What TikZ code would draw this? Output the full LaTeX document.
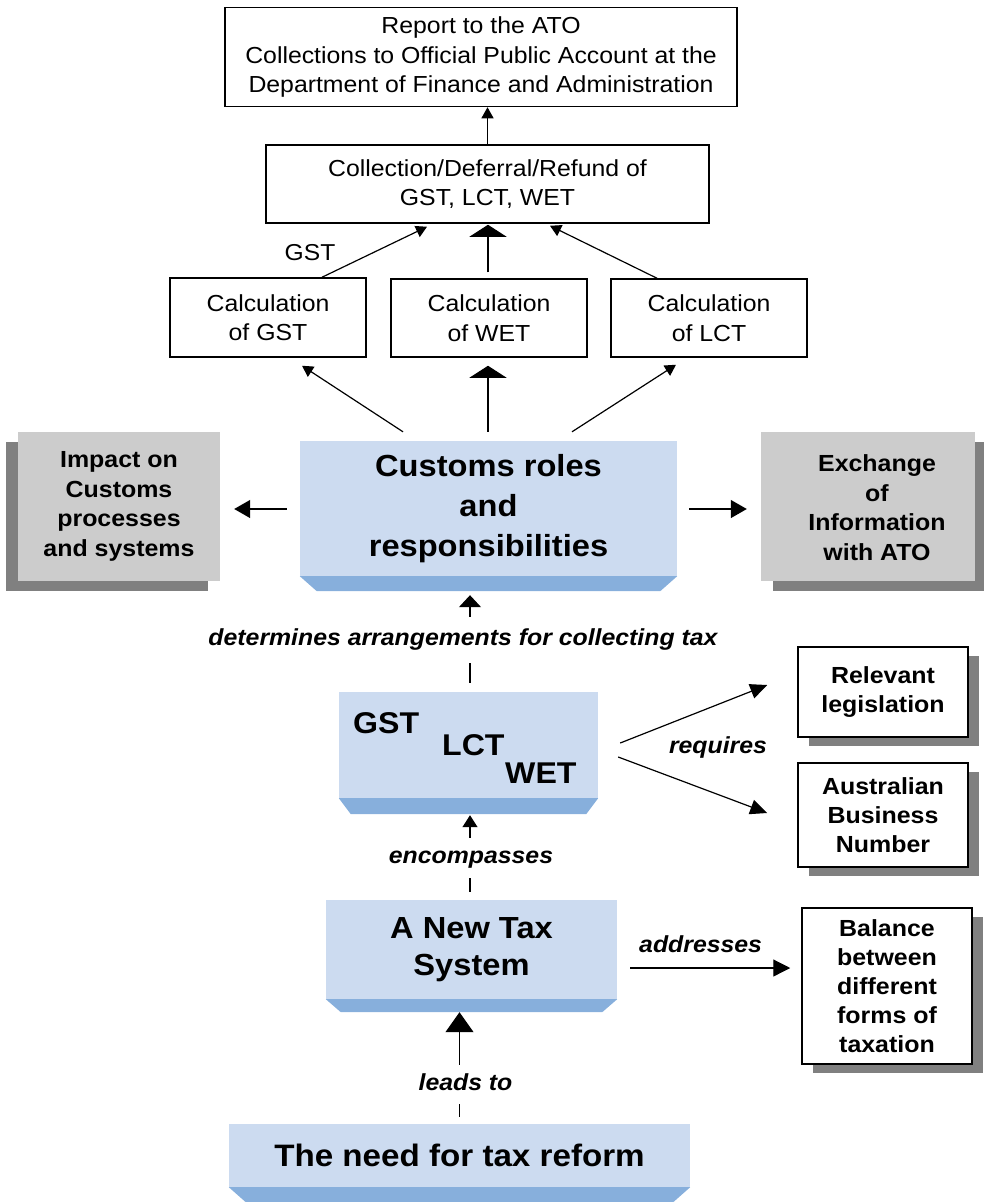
\documentclass[tikz,border=0pt]{standalone}
\usepackage{fontspec}
\setmainfont{Liberation Sans}[FakeStretch=1.07]
\usetikzlibrary{arrows.meta,calc,shadows}
\definecolor{paleblue}{RGB}{204,219,240}
\definecolor{bevelblue}{RGB}{135,175,220}
\definecolor{panelgrey}{RGB}{204,204,204}
\definecolor{shadegrey}{RGB}{128,128,128}

% darker sloped strip under a blue box: node name, inset, height (pt)
\newcommand\bevelunder[3]{%
  \fill[bevelblue] (#1.south west) -- (#1.south east)
    -- ($(#1.south east)+(-#2pt,-#3pt)$) -- ($(#1.south west)+(#2pt,-#3pt)$) -- cycle;}

\tikzset{
  plainbox/.style={draw, line width=1.5pt, fill=white, align=center, inner sep=0pt,
    font=\fontsize{23.2}{29.5}\selectfont},
  wbox/.style={draw, line width=1.5pt, fill=white, align=center, inner sep=0pt,
    font=\bfseries\fontsize{23.3}{29}\selectfont,
    drop shadow={shadow xshift=11pt, shadow yshift=-9pt, fill=shadegrey, opacity=1}},
  bluebox/.style={fill=paleblue, align=center, inner sep=0pt},
  panel/.style={fill=panelgrey, align=center, inner sep=0pt,
    font=\bfseries\fontsize{23.3}{29.6}\selectfont},
  paneltext/.style={align=center, inner sep=0pt, font=\bfseries\fontsize{23.3}{29.6}\selectfont},
  taxword/.style={inner sep=0pt, font=\bfseries\fontsize{30}{36}\selectfont},
  conn/.style={line width=1.2pt, draw=black},
  tipsmall/.style={-{Triangle[length=11pt,width=12pt]}},
  tipwide/.style={-{Triangle[length=12pt,width=37pt]}},
  tipside/.style={-{Triangle[length=16pt,width=18pt]}},
  tipreq/.style={-{Triangle[length=17pt,width=15pt]}},
  lbl/.style={font=\bfseries\itshape\fontsize{23.2}{28}\selectfont, fill=white,
    text height=16.5pt, text depth=5pt, inner xsep=2pt},
  lblplain/.style={font=\bfseries\itshape\fontsize{23.2}{28}\selectfont, inner sep=0pt},
}

\begin{document}
\begin{tikzpicture}[x=1pt,y=-1pt]
\useasboundingbox (0,0) rectangle (984,1202);

% ---- reporting and collection
\node[plainbox, minimum width=512pt, minimum height=99pt] (ato) at (481,57)
  {Report to the ATO\\Collections to Official Public Account at the\\Department of Finance and Administration};
\node[plainbox, minimum width=443pt, minimum height=78pt] (coll) at (487.5,184)
  {Collection/Deferral/Refund of\\GST, LCT, WET};
\draw[conn, tipsmall] (coll.north) -- (coll.north |- ato.south);

% ---- calculations
\node[plainbox, minimum width=196pt, minimum height=79pt] (cgst) at (268,317.5) {Calculation\\of GST};
\node[plainbox, minimum width=196pt, minimum height=78pt] (cwet) at (489,318) {Calculation\\of WET};
\node[plainbox, minimum width=196pt, minimum height=78pt] (clct) at (709,318) {Calculation\\of LCT};

\draw[conn, tipsmall] ($(cgst.north)+(54pt,0)$) -- ($(coll.south)+(-60.5pt,-3pt)$);
\draw[conn, tipwide] ($(cwet.north)+(-1pt,6pt)$) -- ($(cwet.north |- coll.south)+(-1pt,-1pt)$);
\draw[conn, tipsmall] ($(clct.north)+(-52pt,0)$) -- ($(coll.south)+(62.5pt,-2pt)$);
\node[inner sep=0pt, anchor=base, font=\fontsize{23}{28}\selectfont] (gstlbl) at (310,260) {GST};

% ---- customs roles
\node[bluebox, minimum width=377pt, minimum height=135pt,
  font=\bfseries\fontsize{30.5}{40}\selectfont] (cust) at (488.5,508.5)
  {Customs roles\\and\\responsibilities};
\bevelunder{cust}{17}{15}

\draw[conn, tipsmall] ($(cust.north)+(-85.5pt,9pt)$) -- ($(cgst.south)+(34pt,-8pt)$);
\draw[conn, tipwide] ($(cust.north)+(-0.5pt,9pt)$) -- ($(cwet.south)+(-1pt,-8pt)$);
\draw[conn, tipsmall] ($(cust.north)+(83.5pt,9pt)$) -- ($(clct.south)+(-33pt,-7pt)$);

\node[panel, minimum width=202pt, minimum height=149pt,
  drop shadow={shadow xshift=-12pt, shadow yshift=-10pt, fill=shadegrey, opacity=1}]
  (impact) at (119,506.5) {Impact on\\Customs\\processes\\and systems};
\node[panel, minimum width=214pt, minimum height=149pt,
  drop shadow={shadow xshift=12pt, shadow yshift=-10pt, fill=shadegrey, opacity=1}]
  (exch) at (868,506.5) {};
\node[paneltext] (exchtext) at (877,507.5) {Exchange\\of\\Information\\with ATO};

\draw[conn, tipside] ($(cust.west)+(-13pt,-0.5pt)$) -- ($(cust.west -| impact.east)+(14pt,-0.5pt)$);
\draw[conn, tipside] ($(cust.east)+(12pt,-0.5pt)$) -- ($(cust.east -| exch.west)+(-14pt,-0.5pt)$);

% ---- the three taxes
\node[bluebox, minimum width=259pt, minimum height=106pt] (taxes) at (468.5,745) {};
\bevelunder{taxes}{12}{16}
\node[taxword, anchor=base west] (wgst) at (353,733) {GST};
\node[taxword, anchor=base west] (wlct) at (442,755) {LCT};
\node[taxword, anchor=base west] (wwet) at (505,783) {WET};

\draw[conn, -{Triangle[length=12pt,width=22pt]}]
  ($(taxes.north)+(1.5pt,9pt)$) -- ($(taxes.north |- cust.south)+(1.5pt,-19pt)$)
  node[lbl, pos=0.489, xshift=-7pt, inner ysep=12.5pt] (detlbl) {determines arrangements for collecting tax};

\node[wbox, minimum width=170pt, minimum height=90pt] (legis) at (883,692) {Relevant\\legislation};
\node[wbox, minimum width=170pt, minimum height=104pt] (abn) at (883,815) {Australian\\Business\\Number};
\draw[conn, tipreq] ($(taxes.east)+(22pt,2pt)$) -- ($(legis.west)+(-30pt,7pt)$);
\draw[conn, tipreq] ($(taxes.east)+(20pt,-12pt)$) -- ($(abn.west)+(-30pt,2pt)$);
\node[lblplain, anchor=base] (req) at (718,753) {requires};

% ---- a new tax system
\node[bluebox, minimum width=291pt, minimum height=99pt,
  font=\bfseries\fontsize{30.5}{37}\selectfont] (ats) at (471.5,949.5) {A New Tax\\System};
\bevelunder{ats}{15}{13}

\draw[conn, -{Triangle[length=12pt,width=15pt]}]
  ($(ats.north)+(-1.5pt,8pt)$) -- ($(ats.north |- taxes.south)+(-1.5pt,-17pt)$)
  node[lbl, pos=0.442, xshift=1pt, inner ysep=9.5pt] (enclbl) {encompasses};

\node[wbox, minimum width=170pt, minimum height=156pt] (bal) at (887,986)
  {Balance\\between\\different\\forms of\\taxation};
\draw[conn, -{Triangle[length=17pt,width=17pt]}]
  ($(ats.east)+(13pt,-18.5pt)$) -- ($(ats.east -| bal.west)+(-11pt,-18.5pt)$)
  node[lblplain, pos=0.44, anchor=base, yshift=16pt] (addlbl) {addresses};

% ---- the need for reform
\node[bluebox, minimum width=461pt, minimum height=63pt,
  font=\bfseries\fontsize{31}{37}\selectfont] (need) at (459.5,1155.5) {The need for tax reform};
\bevelunder{need}{17}{15}

\draw[conn, -{Triangle[length=20pt,width=28pt]}]
  ($(need.north)+(0,7pt)$) -- ($(need.north |- ats.south)+(0,-13pt)$)
  node[lbl, pos=0.31, xshift=6pt, inner ysep=9pt] (leadlbl) {leads to};
\end{tikzpicture}
\end{document}
